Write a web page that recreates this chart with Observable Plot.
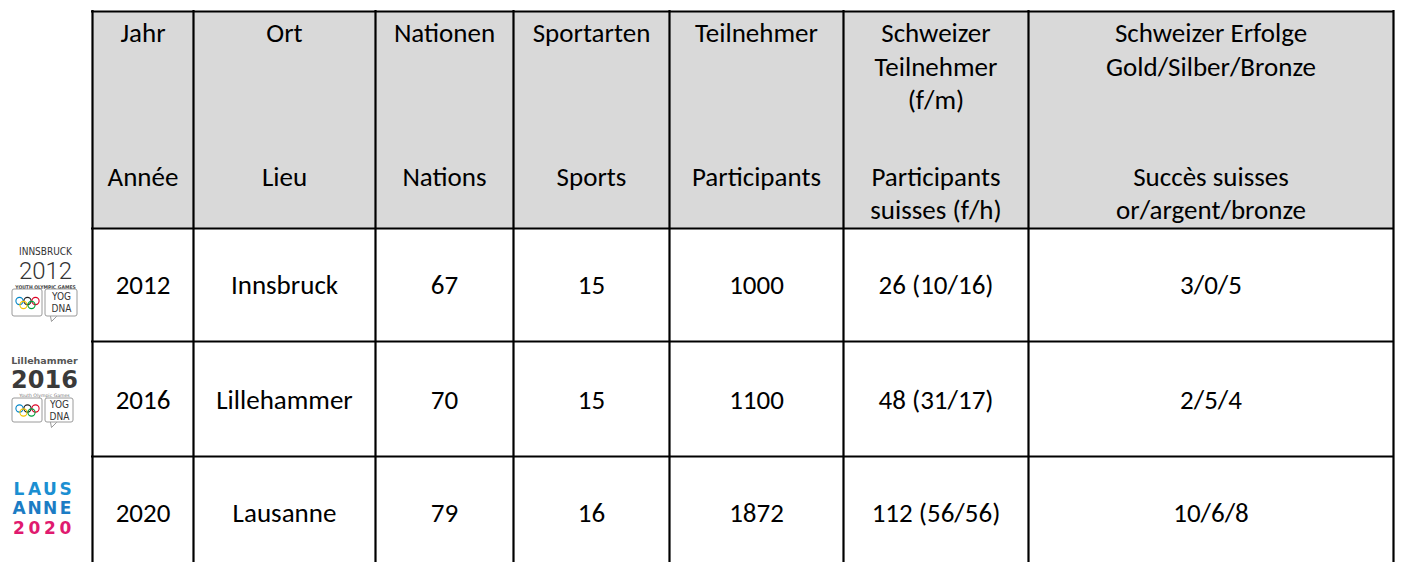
<!DOCTYPE html>
<html><head><meta charset="utf-8">
<script src="https://cdn.jsdelivr.net/npm/d3@7"></script>
<script src="https://cdn.jsdelivr.net/npm/@observablehq/plot@0.6"></script>
<style>html,body{margin:0;padding:0;background:#fff;overflow:hidden}</style>
</head><body><div id="chart"></div>
<script>
// ---- data ----
const years = [2012, 2016, 2020];
const places = ["Innsbruck", "Lillehammer", "Lausanne"];
const nations = [67, 70, 79];
const sports = [15, 15, 16];
const participants = [1000, 1100, 1872];
const swissTotal = [26, 48, 112];
const swissFemale = [10, 31, 56];
const swissMale = [16, 17, 56];
const gold = [3, 2, 10];
const silver = [0, 5, 6];
const bronze = [5, 4, 8];
const headersDE = [["Jahr"], ["Ort"], ["Nationen"], ["Sportarten"], ["Teilnehmer"], ["Schweizer", "Teilnehmer", "(f/m)"], ["Schweizer Erfolge", "Gold/Silber/Bronze"]];
const headersFR = [["Année"], ["Lieu"], ["Nations"], ["Sports"], ["Participants"], ["Participants", "suisses (f/h)"], ["Succès suisses", "or/argent/bronze"]];
const logoCity = ["INNSBRUCK", "Lillehammer"];
const logoYear = ["2012", "2016"];
const logoSub = ["YOUTH OLYMPIC GAMES", "Youth Olympic Games"];
const logoLausanne = ["LAUS", "ANNE", "2020"];

// ---- layout ----
const W = 1403, H = 562;
const colEdges = [92, 193, 375, 513, 669, 843, 1028, 1393];
const rowEdges = [11, 228, 341, 456, 572];
const FONT = "Carlito, Calibri, Lato, sans-serif";
const FS = 27;
const colCenter = i => (colEdges[i] + colEdges[i + 1]) / 2;

// header texts
const headerTexts = [];
headersDE.forEach((lines, c) => lines.forEach((t, k) => headerTexts.push({x: colCenter(c), y: 33 + k * 33.5, text: t})));
headersFR.forEach((lines, c) => lines.forEach((t, k) => headerTexts.push({x: colCenter(c), y: 177 + k * 33, text: t})));

// body texts
const bodyTexts = [];
years.forEach((yr, i) => {
  const vals = [String(yr), places[i], String(nations[i]), String(sports[i]), String(participants[i]),
    `${swissTotal[i]} (${swissFemale[i]}/${swissMale[i]})`, `${gold[i]}/${silver[i]}/${bronze[i]}`];
  const yc = [285, 400, 513][i];
  vals.forEach((t, c) => bodyTexts.push({x: colCenter(c), y: yc, text: t}));
});

// logo geometry (first two logos share design)
const logoTop = [250, 357];
const logoRects = [];
const ringDots = [];
const tails = [];
const logoSmall = [];
const ringColors = ["#0085c7", "#222", "#df0024", "#f4c300", "#009f3d"];
logoTop.forEach((t, i) => {
  const by = t + (i === 0 ? 39 : 41), bh = i === 0 ? 27 : 24;
  const yogR = i === 0 ? 77 : 73;
  logoRects.push({x1: 12, x2: 42, y1: by, y2: by + bh});
  logoRects.push({x1: 45, x2: yogR, y1: by, y2: by + bh});
  const cy = by + bh / 2;
  [[19, -2], [27, -2], [35, -2], [23, 2], [31, 2]].forEach(([x, d], k) => ringDots.push({x, y: cy + d, c: ringColors[k]}));
  tails.push([{x: 50, y: by + bh}, {x: 51, y: by + bh + 5}, {x: 56, y: by + bh}]);
  logoSmall.push({x: (45 + yogR) / 2, y: cy - 6, text: "YOG"});
  logoSmall.push({x: (45 + yogR) / 2, y: cy + 6, text: "DNA"});
});
const lausLetters = [];
logoLausanne.forEach((w, r) => [...w].forEach((ch, k) => lausLetters.push({x: 18.5 + k * 15.5, y: 489 + r * 19.5, text: ch, r})));

const chart = Plot.plot({
  width: W, height: H, margin: 0,
  x: {domain: [0, W], range: [0, W], axis: null},
  y: {domain: [0, H], range: [0, H], axis: null},
  style: {background: "#fff"},
  marks: [
    Plot.rect([0], {x1: () => colEdges[0], x2: () => colEdges[7], y1: () => rowEdges[0], y2: () => rowEdges[1], fill: "#d9d9d9"}),
    Plot.ruleY(rowEdges.slice(0, 4), {x1: () => colEdges[0] - 1, x2: () => colEdges[7] + 1, stroke: "#000", strokeWidth: 2.2}),
    Plot.ruleX(colEdges, {y1: () => rowEdges[0] - 1, y2: () => H + 10, stroke: "#000", strokeWidth: 2.2}),
    Plot.text(headerTexts, {x: "x", y: "y", text: "text", fontFamily: FONT, fontSize: FS, fill: "#000"}),
    Plot.text(bodyTexts, {x: "x", y: "y", text: "text", fontFamily: FONT, fontSize: FS, fill: "#000"}),
    // logos 2012 / 2016
    Plot.text([logoCity[0]], {x: () => 45, y: () => 251.5, text: d => d, fontFamily: "DejaVu Sans Condensed, DejaVu Sans", fontSize: 10, fill: "#333"}),
    Plot.text([logoYear[0]], {x: () => 45, y: () => 271, text: d => d, fontFamily: "Roboto", fontWeight: 300, fontSize: 24, fill: "#333"}),
    Plot.text([logoSub[0]], {x: () => 45, y: () => 287, text: d => d, fontFamily: "DejaVu Sans Condensed, DejaVu Sans", fontWeight: "bold", fontSize: 5, fill: "#444"}),
    Plot.text([logoCity[1]], {x: () => 44, y: () => 360, text: d => d, fontFamily: "DejaVu Sans", fontWeight: "bold", fontSize: 9.5, fill: "#555"}),
    Plot.text([logoYear[1]], {x: () => 44, y: () => 380, text: d => d, fontFamily: "DejaVu Sans", fontWeight: "bold", fontSize: 24, fill: "#3a3a3a"}),
    Plot.text([logoSub[1]], {x: () => 44, y: () => 395, text: d => d, fontFamily: "DejaVu Sans", fontSize: 4.6, fill: "#777"}),
    Plot.rect(logoRects, {x1: "x1", x2: "x2", y1: "y1", y2: "y2", fill: "#fff", stroke: "#9a9a9a", strokeWidth: 1, rx: 2}),
    Plot.dot(ringDots, {x: "x", y: "y", r: 3.6, stroke: "c", strokeWidth: 1.1, fill: "none"}),
    ...tails.map(t => Plot.line(t, {x: "x", y: "y", stroke: "#9a9a9a", strokeWidth: 1})),
    Plot.text(logoSmall, {x: "x", y: "y", text: "text", fontFamily: "DejaVu Sans Condensed, DejaVu Sans", fontSize: 10, fill: "#333"}),
    // Lausanne 2020 logo
    Plot.text(lausLetters.filter(d => d.r === 0), {x: "x", y: "y", text: "text", fontFamily: "DejaVu Sans", fontWeight: "bold", fontSize: 17, fill: "#1b8fd2"}),
    Plot.text(lausLetters.filter(d => d.r === 1), {x: "x", y: "y", text: "text", fontFamily: "DejaVu Sans", fontWeight: "bold", fontSize: 17, fill: "#1c7cc4"}),
    Plot.text(lausLetters.filter(d => d.r === 2), {x: "x", y: "y", text: "text", fontFamily: "DejaVu Sans", fontWeight: "bold", fontSize: 17, fill: "#e01a6f"})
  ]
});
document.getElementById("chart").appendChild(chart);
</script>
</body></html>
